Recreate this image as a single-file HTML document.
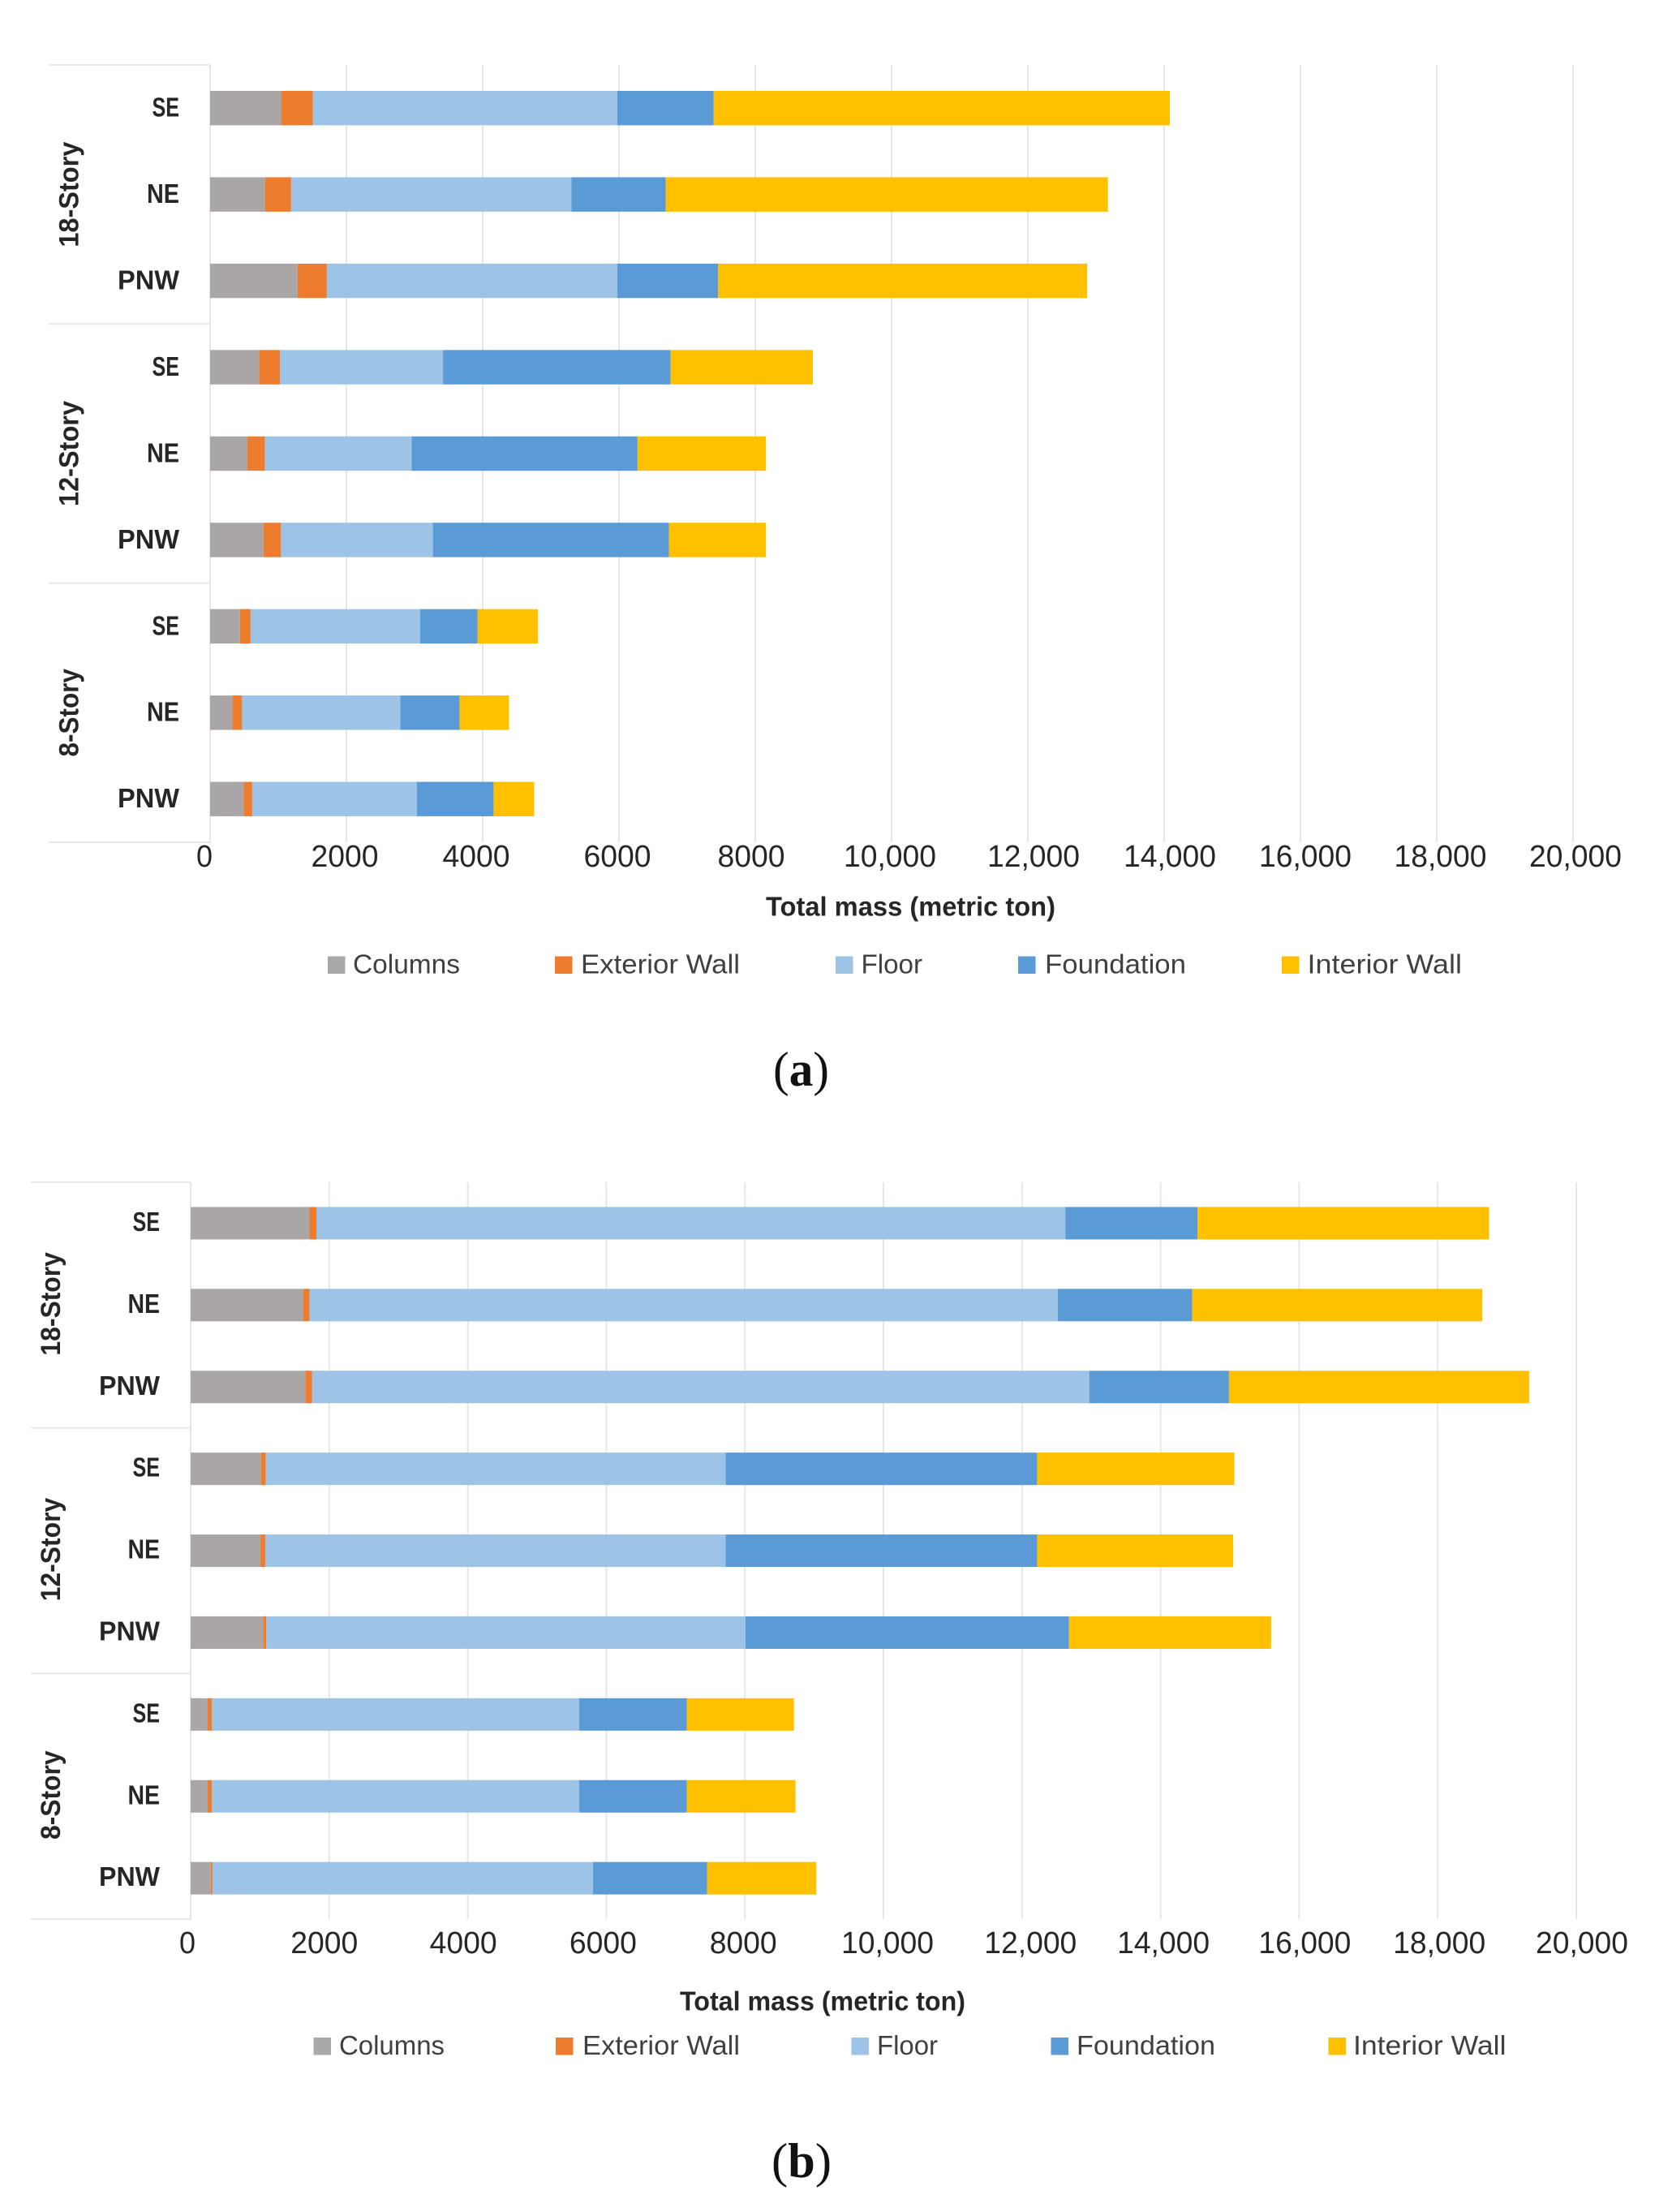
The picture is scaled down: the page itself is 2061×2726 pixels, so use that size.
<!DOCTYPE html>
<html lang="en">
<head>
<meta charset="utf-8">
<title>Total mass by structural component, panels (a) and (b)</title>
<style>
html,body{margin:0;padding:0;background:#fff;}
#figure{display:block;width:2061px;height:2726px;}
text{font-family:"Liberation Sans",sans-serif;}
.cap{font-family:"Liberation Serif",serif;}
</style>
</head>
<body>
<svg id="figure" xmlns="http://www.w3.org/2000/svg" width="2061" height="2726" viewBox="0 0 2061 2726"></svg>
<script>
// ---- shared categories ----
const storyGroups = ['18-Story', '12-Story', '8-Story'];
const regionLabels = ['SE', 'NE', 'PNW'];
const seriesNames = ['Columns', 'Exterior Wall', 'Floor', 'Foundation', 'Interior Wall'];
const tickValues = [0, 2000, 4000, 6000, 8000, 10000, 12000, 14000, 16000, 18000, 20000];
const tickLabels = ['0', '2000', '4000', '6000', '8000', '10,000', '12,000', '14,000', '16,000', '18,000', '20,000'];
const axisTitle = 'Total mass (metric ton)';

// ---- panel (a) values, metric ton, rows top to bottom ----
const columnsA = [1048, 805, 1283, 719, 547, 782, 438, 328, 493];
const exteriorA = [461, 384, 430, 305, 258, 258, 156, 141, 125];
const floorA = [4466, 4113, 4262, 2394, 2151, 2229, 2487, 2323, 2416];
const foundationA = [1415, 1384, 1478, 3339, 3316, 3464, 845, 868, 1126];
const interiorA = [6693, 6489, 5417, 2088, 1885, 1424, 884, 727, 595];

// ---- panel (b) values, metric ton, rows top to bottom ----
const columnsB = [1715, 1623, 1654, 1015, 1008, 1046, 245, 245, 290];
const exteriorB = [100, 92, 100, 70, 69, 46, 63, 63, 25];
const floorB = [10810, 10803, 11217, 6638, 6646, 6916, 5300, 5300, 5493];
const foundationB = [1908, 1938, 2016, 4495, 4495, 4671, 1554, 1554, 1646];
const interiorB = [4208, 4186, 4332, 2846, 2830, 2916, 1546, 1569, 1577];

const seriesColors = ['#A9A6A5', '#EE7C2E', '#9DC3E6', '#5B9BD5', '#FFC000'];
const legendColors = ['#A9A9A9', '#EE7C2E', '#9DC3E6', '#5B9BD5', '#FFC000'];

const svg = document.getElementById('figure');
const NS = 'http://www.w3.org/2000/svg';

function make(tag, parent, attrs, content) {
  const node = document.createElementNS(NS, tag);
  for (const key in attrs) node.setAttribute(key, attrs[key]);
  if (content !== undefined) node.textContent = content;
  parent.appendChild(node);
  return node;
}

function drawPanel(panelId, series, layout) {
  const x = v => layout.x0 + v * layout.pxPerUnit;
  const rowCenter = i => layout.top + layout.rowH * (i + 0.5);

  const panel = make('g', svg, {});
  
  

  // gridlines
  tickValues.forEach(function (v) {
    const el = make('rect', panel, {
      x: x(v) - 1, y: layout.top, width: 2,
      height: layout.rowH * 9, fill: '#E6E6E9'
    });
    
    
  });

  // category group separators
  for (let g = 0; g <= storyGroups.length; g++) {
    const el = make('rect', panel, {
      x: layout.sepLeft, y: layout.top + g * 3 * layout.rowH - 1,
      width: layout.x0 - layout.sepLeft, height: 2, fill: '#E8E8E8'
    });
    
    
  }

  // stacked bars
  for (let r = 0; r < 9; r++) {
    let cumulative = 0;
    const story = storyGroups[Math.floor(r / 3)].toLowerCase();
    const region = regionLabels[r % 3].toLowerCase();
    series.forEach(function (values, s) {
      const start = cumulative;
      cumulative += values[r];
      const el = make('rect', panel, {
        x: x(start), y: rowCenter(r) - layout.barH / 2,
        width: x(cumulative) - x(start), height: layout.barH,
        fill: seriesColors[s]
      });
      
      
    });

    const label = make('text', panel, {
      x: layout.rowLabelRight, y: rowCenter(r) + layout.rowLabelDrop,
      'text-anchor': 'end', 'font-size': 33, 'font-weight': 700, fill: '#262626',
      textLength: layout.regionWidths[r % 3], lengthAdjust: 'spacingAndGlyphs'
    }, regionLabels[r % 3]);
    
    
  }

  // rotated story labels
  storyGroups.forEach(function (name, g) {
    const cy = rowCenter(g * 3 + 1) + layout.groupNudge;
    const gx = layout.groupBaseline;
    const el = make('text', panel, {
      x: gx, y: cy, transform: 'rotate(-90 ' + gx + ' ' + cy + ')',
      'text-anchor': 'middle', 'font-size': 34, 'font-weight': 700, fill: '#262626',
      textLength: name.length === 8 ? layout.groupWidthLong : layout.groupWidthShort,
      lengthAdjust: 'spacingAndGlyphs'
    }, name);
    
    
  });

  // x-axis tick labels
  tickLabels.forEach(function (text, i) {
    const el = make('text', panel, {
      x: x(tickValues[i]) + layout.tickNudge[i], y: layout.tickBaseline,
      'text-anchor': 'middle', 'font-size': 38, fill: '#262626',
      textLength: text.length === 6 ? 114 : (text.length === 4 ? 83 : 20),
      lengthAdjust: 'spacingAndGlyphs'
    }, text);
    
    
  });

  // axis title
  const title = make('text', panel, {
    x: layout.titleLeft, y: layout.titleBaseline, 'font-size': 33, 'font-weight': 700,
    fill: '#262626', textLength: layout.titleWidth, lengthAdjust: 'spacingAndGlyphs'
  }, axisTitle);
  
  

  // legend
  seriesNames.forEach(function (name, i) {
    const entry = make('g', panel, {});
    
    
    const sw = make('rect', entry, {
      x: layout.legendSwatchX[i], y: layout.legendBaseline - 21,
      width: 21.5, height: 21.5, fill: legendColors[i]
    });
    
    
    const tx = make('text', entry, {
      x: layout.legendTextX[i], y: layout.legendBaseline, 'font-size': 33, fill: '#404040',
      textLength: layout.legendTextW[i], lengthAdjust: 'spacingAndGlyphs'
    }, name);
    
    
  });

  // panel caption: "(a)" / "(b)"
  const cap = make('text', panel, {
    class: 'cap', x: layout.capLeft, y: layout.capBaseline, 'font-size': 60, fill: '#111',
    textLength: layout.capWidth, lengthAdjust: 'spacingAndGlyphs'
  });
  
  
  make('tspan', cap, {}, '(');
  make('tspan', cap, { 'font-weight': 700 }, panelId);
  make('tspan', cap, {}, ')');
}

drawPanel('a', [columnsA, exteriorA, floorA, foundationA, interiorA], {
  x0: 259, pxPerUnit: 0.084, top: 80, rowH: 106.44, barH: 42.4, sepLeft: 60,
  rowLabelRight: 221, rowLabelDrop: 10.4, regionWidths: [33.5, 40, 76],
  groupBaseline: 96.5, groupNudge: 0, groupWidthLong: 130, groupWidthShort: 108.5,
  tickBaseline: 1068, tickNudge: [-7, -2, -8, -2, -5, -2, 7, 7, 6, 4.5, 3],
  titleLeft: 944, titleBaseline: 1128.5, titleWidth: 357,
  legendBaseline: 1199.5,
  legendSwatchX: [404, 684, 1030, 1255, 1580],
  legendTextX: [435, 716, 1061.5, 1288, 1611.5],
  legendTextW: [132, 196, 75.5, 174, 190.5],
  capLeft: 953, capBaseline: 1338, capWidth: 69
});

drawPanel('b', [columnsB, exteriorB, floorB, foundationB, interiorB], {
  x0: 235, pxPerUnit: 0.0854, top: 1457, rowH: 100.9, barH: 40, sepLeft: 38,
  rowLabelRight: 197, rowLabelDrop: 9.5, regionWidths: [33.5, 39.5, 75],
  groupBaseline: 74, groupNudge: -1.5, groupWidthLong: 127.5, groupWidthShort: 109.5,
  tickBaseline: 2407, tickNudge: [-4, -6, -5.5, -4, -2, 5, 10.5, 3.5, 7, 2, 7],
  titleLeft: 838, titleBaseline: 2477.5, titleWidth: 352,
  legendBaseline: 2532,
  legendSwatchX: [386.5, 685, 1049.5, 1295.5, 1637.5],
  legendTextX: [418, 718, 1081, 1327, 1668],
  legendTextW: [130, 194, 75, 171, 188.5],
  capLeft: 951, capBaseline: 2683, capWidth: 74
});
</script>
</body>
</html>
